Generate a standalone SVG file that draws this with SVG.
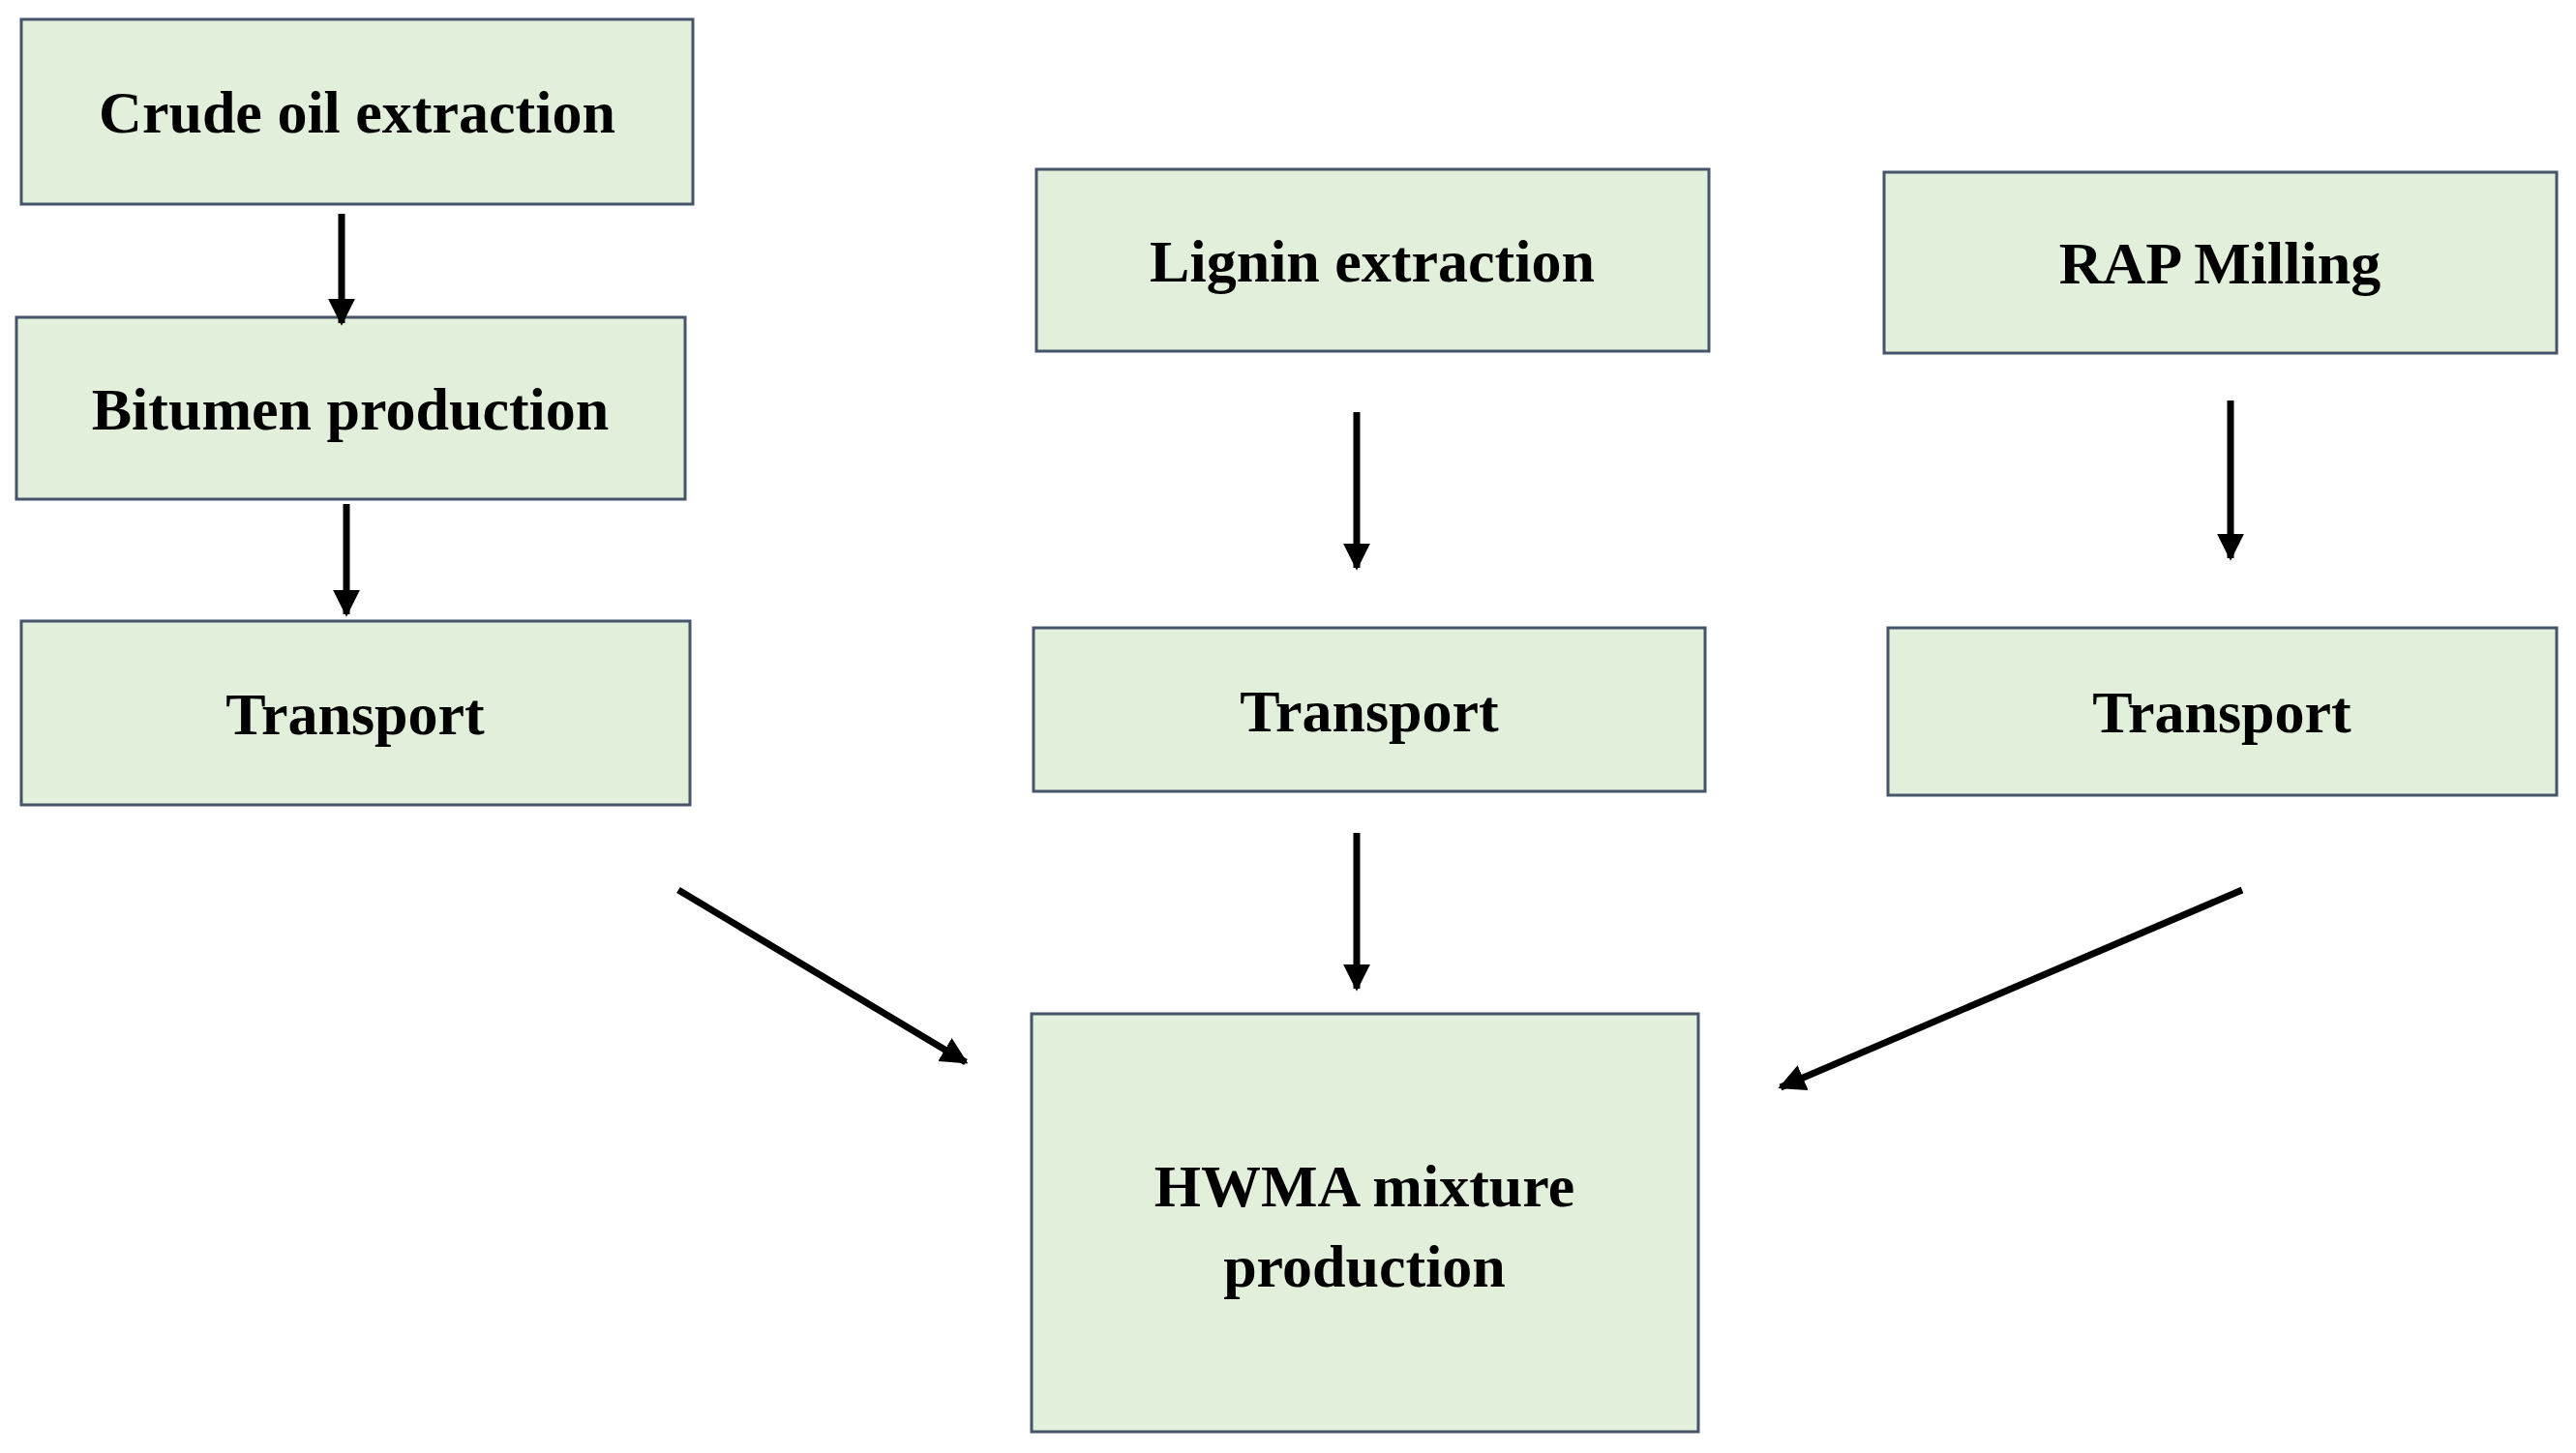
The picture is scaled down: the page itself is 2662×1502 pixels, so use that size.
<svg xmlns="http://www.w3.org/2000/svg" width="2662" height="1502" viewBox="0 0 2662 1502">
<style>
.b{fill:#e2efda;stroke:#44546a;stroke-width:3}
.t{font-family:"Liberation Serif",serif;font-weight:bold;font-size:62px;fill:#000;text-anchor:middle}
.c{stroke:#000;stroke-width:7;fill:none;marker-end:url(#a)}
</style>
<defs><marker id="a" viewBox="0 0 10 10" refX="9" refY="5" markerWidth="4" markerHeight="4" orient="auto" markerUnits="strokeWidth"><path d="M0,0L10,5L0,10z" fill="#000"/></marker></defs>
<rect width="2662" height="1502" fill="#fff"/>
<g id="crude"><rect class="b" x="22" y="20" width="694" height="191"/><text class="t" x="369" y="137">Crude oil extraction</text></g>
<g id="bitumen"><rect class="b" x="17" y="328" width="691" height="188"/><text class="t" x="362" y="444">Bitumen production</text></g>
<g id="transport1"><rect class="b" x="22" y="642" width="691" height="190"/><text class="t" x="367" y="759">Transport</text></g>
<g id="lignin"><rect class="b" x="1071" y="175" width="695" height="188"/><text class="t" x="1418" y="291">Lignin extraction</text></g>
<g id="rap"><rect class="b" x="1947" y="178" width="695" height="187"/><text class="t" x="2294" y="293">RAP Milling</text></g>
<g id="transport2"><rect class="b" x="1068" y="649" width="694" height="169"/><text class="t" x="1415" y="756">Transport</text></g>
<g id="transport3"><rect class="b" x="1951" y="649" width="691" height="173"/><text class="t" x="2296" y="757">Transport</text></g>
<g id="hwma"><rect class="b" x="1066" y="1048" width="689" height="432"/><text class="t" x="1410" y="1247">HWMA mixture</text><text class="t" x="1410" y="1330">production</text></g>
<g id="connectors">
<line class="c" x1="353" y1="221" x2="353" y2="334"/>
<line class="c" x1="358" y1="521" x2="358" y2="635"/>
<line class="c" x1="1402" y1="426" x2="1402" y2="587"/>
<line class="c" x1="2305" y1="414" x2="2305" y2="577"/>
<line class="c" x1="1402" y1="861" x2="1402" y2="1022"/>
<line class="c" x1="701" y1="920" x2="998" y2="1098"/>
<line class="c" x1="2317" y1="920" x2="1840" y2="1124"/>
</g>
</svg>
